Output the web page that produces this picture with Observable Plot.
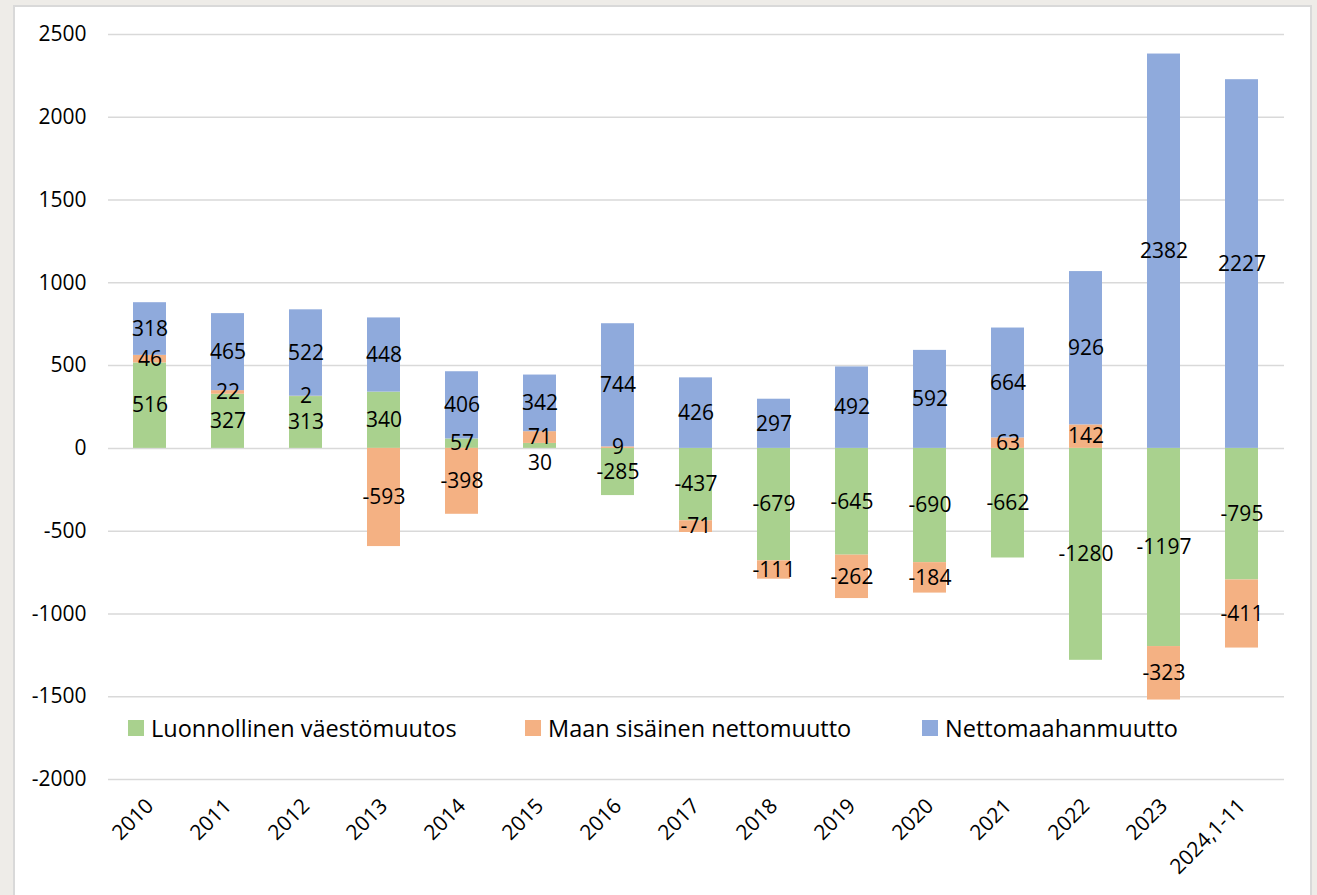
<!DOCTYPE html>
<html>
<head>
<meta charset="utf-8">
<script src="https://cdn.jsdelivr.net/npm/d3@7"></script>
<script src="https://cdn.jsdelivr.net/npm/@observablehq/plot@0.6"></script>
<style>
  html, body { margin: 0; padding: 0; background: #eeece8; width: 1317px; height: 895px; overflow: hidden; }
  #frame { position: absolute; left: 13px; top: 5px; width: 1299px; height: 900px; background: #fff; border: 2px solid #d9d9d9; box-sizing: border-box; }
  #chart { position: absolute; left: 0; top: 0; }
  #legend { position: absolute; top: 712px; left: 0; font-family: "Open Sans", sans-serif; font-size: 23.5px; color: #000; }
  .item { position: absolute; display: flex; align-items: center; white-space: nowrap; }
  .sw { width: 16px; height: 16px; margin-right: 7px; }
</style>
</head>
<body>
<div id="frame"></div>
<div id="chart"></div>
<div id="legend"></div>
<script>
const years = ["2010","2011","2012","2013","2014","2015","2016","2017","2018","2019","2020","2021","2022","2023","2024,1-11"];
const seriesNames = ["Luonnollinen väestömuutos", "Maan sisäinen nettomuutto", "Nettomaahanmuutto"];
const luonnollinen = [516,327,313,340,57,30,-285,-437,-679,-645,-690,-662,-1280,-1197,-795];
const sisainen = [46,22,2,-593,-398,71,9,-71,-111,-262,-184,63,142,-323,-411];
const nettomaahanmuutto = [318,465,522,448,406,342,744,426,297,492,592,664,926,2382,2227];
const yTicks = [-2000,-1500,-1000,-500,0,500,1000,1500,2000,2500];
const colors = ["#a9d18e", "#f4b183", "#8faadc"];

const seriesValues = [luonnollinen, sisainen, nettomaahanmuutto];
const data = [];
years.forEach((yr, i) => {
  seriesValues.forEach((vals, s) => {
    data.push({year: yr, series: seriesNames[s], value: vals[i]});
  });
});

// the one label that the reference pushes below its (tiny) segment
const isShifted = d => d.year === "2015" && d.series === seriesNames[0];

const font = "Open Sans, sans-serif";
const stackOpts = {x: "year", y: "value", z: "series", order: null};
const chart = Plot.plot({
  width: 1317,
  height: 895,
  marginLeft: 108,
  marginRight: 33,
  marginTop: 34,
  marginBottom: 116,
  style: {fontFamily: font, fontSize: "21px", color: "#000", background: "transparent"},
  x: {domain: years, paddingInner: 0.575, paddingOuter: 0.29, label: null},
  y: {domain: [-2000, 2500], ticks: yTicks, label: null},
  color: {domain: seriesNames, range: colors},
  marks: [
    Plot.gridY(yTicks, {stroke: "#d9d9d9", strokeOpacity: 1, strokeWidth: 1.5}),
    Plot.barY(data, Plot.stackY({...stackOpts, fill: "series"})),
    Plot.text(data, Plot.filter(d => !isShifted(d), Plot.stackY({...stackOpts, text: d => String(d.value), fill: "#000", fontSize: 21}))),
    Plot.text(data, Plot.filter(isShifted, Plot.stackY({...stackOpts, text: d => String(d.value), fill: "#000", fontSize: 21, dy: 17}))),
    Plot.axisY(yTicks, {tickSize: 0, tickPadding: 22, fontSize: 21, tickFormat: d => String(d)}),
    Plot.axisX({tickSize: 0, tickPadding: 23, tickRotate: -45, fontSize: 21})
  ]
});
document.getElementById("chart").appendChild(chart);

// legend
const legendPos = [128, 525, 922];
const lg = document.getElementById("legend");
seriesNames.forEach((name, i) => {
  const it = document.createElement("div");
  it.className = "item";
  it.style.left = legendPos[i] + "px";
  const sw = document.createElement("div");
  sw.className = "sw";
  sw.style.background = colors[i];
  const t = document.createElement("span");
  t.textContent = name;
  it.appendChild(sw); it.appendChild(t);
  lg.appendChild(it);
});
</script>
</body>
</html>
